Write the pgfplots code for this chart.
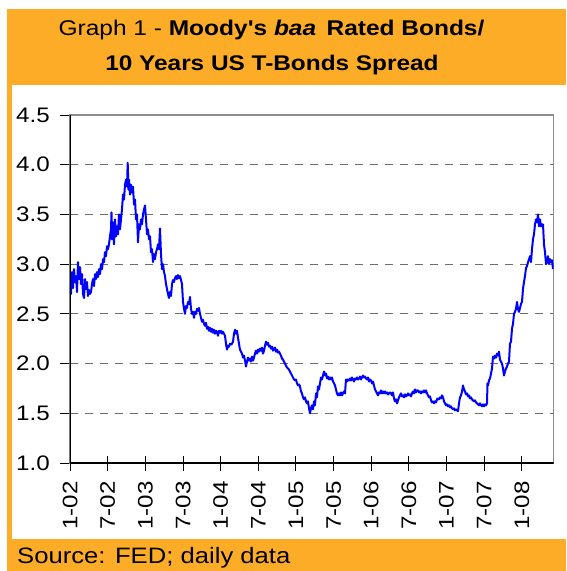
\documentclass[border=0pt]{standalone}
\usepackage{fontspec}
\setmainfont{Liberation Sans}[FakeStretch=1.15, Ligatures=TeXOff]
\usepackage{pgfplots}
\pgfplotsset{compat=1.18}
\definecolor{frameorange}{RGB}{253,172,40}
\definecolor{gridgray}{RGB}{110,110,110}
\definecolor{bordergray}{RGB}{140,140,140}
\begin{document}
\begin{tikzpicture}[x=1pt,y=1pt]
\useasboundingbox (-70,-108) rectangle (496,463);
\fill[white] (-70,-108) rectangle (496,463);
\fill[frameorange] (-63,-108) rectangle (496,454);
\fill[white] (-58,-76) rectangle (496,378);
\node[anchor=base, inner sep=0pt, font=\fontsize{21.3}{24}\selectfont] at (201.5,427) {Graph 1 - \textbf{Moody's \textit{baa}\, Rated Bonds/}};
\node[anchor=base, inner sep=0pt, font=\fontsize{21.2}{24}\selectfont\bfseries] at (202,392.5) {10 Years US T-Bonds Spread};
\node[anchor=base west, inner sep=0pt, font=\fontsize{22.3}{24}\selectfont] at (-53,-100) {Source: FED; daily data};
\begin{axis}[
  at={(0,0)}, anchor=south west,
  scale only axis, width=483.5pt, height=348pt,
  xmin=0, xmax=483.5, ymin=1, ymax=4.5,
  ytick={1,1.5,2,2.5,3,3.5,4,4.5},
  xtick={0,37.64,75.28,112.92,150.56,188.2,225.84,263.48,301.12,338.76,376.4,414.04,451.68},
  xticklabels={1-02,7-02,1-03,7-03,1-04,7-04,1-05,7-05,1-06,7-06,1-07,7-07,1-08},
  xtick pos=bottom, ytick pos=left,
  tick align=outside, major tick length=10pt,
  tick style={black, line width=0.8pt},
  xtick style={yshift=7pt, /pgfplots/major tick length=15pt},
  ymajorgrids,
  grid style={gridgray, dash pattern=on 8pt off 7pt, line width=0.8pt},
  axis line style={bordergray, line width=1.2pt},
  yticklabel style={font=\fontsize{21}{21}\selectfont, inner sep=0pt, xshift=-10pt},
  xticklabel style={font=\fontsize{21}{21}\selectfont, rotate=90, anchor=east, inner ysep=0pt, inner xsep=0pt, text depth=0pt},
  xticklabel shift=8pt,
  /pgf/number format/.cd, fixed, fixed zerofill, precision=1, assume math mode=true,
]
\addplot[blue, line width=2pt, line join=round] coordinates {
(0,2.78)(1,2.70)(2,2.92)(3,2.76)(4,2.95)(5,2.82)(6,2.88)(7,2.72)(8,3.02)(9,2.85)(10,2.97)(11,2.80)(12,2.90)(13,2.70)(14,2.66)(15,2.85)(16,2.75)(17,2.82)(18,2.68)(19,2.74)
(20,2.70)(21,2.72)(22,2.80)(23,2.85)(24,2.78)(25,2.90)(26,2.85)(27,2.92)(28,2.87)(29,2.95)(30,2.90)(31,3.00)(32,2.95)(33,3.05)(34,3.02)(35,3.12)(36,3.08)(37,3.18)(38,3.15)(39,3.20)
(40,3.28)(41,3.35)(41.5,3.52)(42,3.25)(43,3.42)(44,3.20)(45,3.45)(46,3.28)(47,3.38)(48,3.30)(49,3.50)(50,3.35)(51,3.45)(52,3.55)(53,3.70)(54,3.65)(55,3.80)(56,3.85)(57,3.78)(57.7,4.02)
(58.5,3.75)(59,3.85)(60,3.70)(61,3.80)(62,3.72)(63,3.78)(64,3.60)(65,3.65)(66,3.45)(67,3.50)(68,3.22)(69,3.40)(70,3.35)(71,3.45)(72,3.40)(73,3.50)(74,3.55)(75,3.59)(76,3.45)(77,3.30)
(78,3.35)(79,3.25)(80,3.28)(81,3.12)(82,3.15)(83,3.02)(84,3.10)(85,3.05)(86,3.12)(87,3.15)(88,3.20)(89,3.15)(90,3.36)(91,3.10)(92,2.95)(93,3.00)(94,2.92)(95,2.88)(96,2.80)(97,2.75)
(98,2.70)(99,2.66)(100,2.72)(101,2.68)(102,2.80)(103,2.84)(104,2.82)(105,2.86)(106,2.88)(107,2.85)(108,2.89)(109,2.86)(110,2.88)(111,2.84)(112,2.80)(113,2.62)(114,2.55)(115,2.50)(116,2.58)(117,2.56)
(118,2.62)(119,2.60)(120,2.67)(121,2.55)(122,2.50)(123,2.52)(124,2.46)(125,2.52)(126,2.50)(127,2.55)(128,2.53)(129,2.56)(130,2.50)(131,2.46)(132,2.42)(133,2.44)(134,2.40)(135,2.38)(136,2.41)(137,2.35)
(138,2.37)(139,2.33)(140,2.36)(141,2.32)(142,2.35)(143,2.31)(144,2.34)(145,2.30)(146,2.33)(147,2.32)(148,2.28)(149,2.33)(150,2.31)(151,2.33)(152,2.30)(153,2.32)(154,2.30)(155,2.28)(156,2.20)(157,2.14)
(158,2.18)(159,2.17)(160,2.20)(161,2.19)(162,2.20)(163,2.22)(164,2.30)(165,2.34)(166,2.30)(167,2.33)(168,2.26)(169,2.20)(170,2.14)(171,2.12)(172,2.10)(173,2.06)(174,2.08)(175,2.03)(176,1.97)(177,2.02)
(178,2.06)(179,2.03)(180,2.05)(181,2.02)(182,2.07)(183,2.03)(184,2.06)(185,2.10)(186,2.13)(187,2.10)(188,2.14)(189,2.12)(190,2.15)(191,2.13)(192,2.16)(193,2.10)(194,2.13)(195,2.18)(196,2.22)(197,2.19)
(198,2.21)(199,2.17)(200,2.18)(201,2.15)(202,2.17)(203,2.13)(204,2.15)(205,2.16)(206,2.12)(207,2.14)(208,2.11)(209,2.12)(210,2.10)(211,2.08)(212,2.05)(213,2.04)(214,2.02)(215,2.00)(216,1.98)(217,1.96)
(218,1.95)(219,1.94)(220,1.92)(221,1.90)(222,1.88)(223,1.86)(224,1.84)(225,1.83)(226,1.84)(227,1.80)(228,1.78)(229,1.79)(230,1.77)(231,1.72)(232,1.70)(233,1.66)(234,1.64)(235,1.66)(236,1.62)(237,1.60)
(238,1.62)(239,1.55)(240,1.50)(241,1.55)(242,1.58)(243,1.54)(244,1.62)(245,1.58)(246,1.70)(247,1.66)(248,1.77)(249,1.74)(250,1.80)(251,1.86)(252,1.84)(253,1.88)(254,1.92)(255,1.88)(256,1.90)(257,1.85)
(258,1.87)(259,1.84)(260,1.86)(261,1.84)(262,1.86)(263,1.82)(264,1.80)(265,1.78)(266,1.74)(267,1.70)(268,1.68)(269,1.70)(270,1.68)(271,1.71)(272,1.68)(273,1.70)(274,1.72)(275,1.70)(276,1.84)(277,1.82)
(278,1.84)(279,1.83)(280,1.85)(281,1.83)(282,1.86)(283,1.84)(284,1.82)(285,1.85)(286,1.84)(287,1.86)(288,1.84)(289,1.85)(290,1.87)(291,1.84)(292,1.86)(293,1.88)(294,1.86)(295,1.87)(296,1.85)(297,1.84)
(298,1.86)(299,1.82)(300,1.84)(301,1.83)(302,1.80)(303,1.82)(304,1.78)(305,1.74)(306,1.72)(307,1.70)(308,1.68)(309,1.71)(310,1.70)(311,1.73)(312,1.70)(313,1.72)(314,1.70)(315,1.72)(316,1.70)(317,1.71)
(318,1.69)(319,1.70)(320,1.71)(321,1.70)(322,1.68)(323,1.71)(324,1.65)(325,1.62)(326,1.64)(327,1.60)(328,1.63)(329,1.66)(330,1.68)(331,1.70)(332,1.67)(333,1.68)(334,1.66)(335,1.69)(336,1.67)(337,1.68)
(338,1.70)(339,1.68)(340,1.69)(341,1.67)(342,1.70)(343,1.72)(344,1.70)(345,1.74)(346,1.71)(347,1.73)(348,1.73)(349,1.71)(350,1.72)(351,1.70)(352,1.72)(353,1.71)(354,1.73)(355,1.71)(356,1.73)(357,1.70)
(358,1.68)(359,1.66)(360,1.67)(361,1.63)(362,1.61)(363,1.62)(364,1.60)(365,1.62)(366,1.61)(367,1.64)(368,1.65)(369,1.64)(370,1.66)(371,1.65)(372,1.68)(373,1.66)(374,1.62)(375,1.60)(376,1.58)(377,1.59)
(378,1.57)(379,1.58)(380,1.56)(381,1.57)(382,1.55)(383,1.54)(384,1.55)(385,1.53)(386,1.54)(387,1.53)(388,1.52)(389,1.60)(390,1.66)(391,1.68)(392,1.72)(393,1.78)(394,1.74)(395,1.72)(396,1.69)(397,1.70)
(398,1.67)(399,1.68)(400,1.65)(401,1.66)(402,1.64)(403,1.63)(404,1.62)(405,1.63)(406,1.61)(407,1.60)(408,1.59)(409,1.58)(410,1.60)(411,1.58)(412,1.57)(413,1.59)(414,1.57)(415,1.59)(416,1.58)(417,1.60)
(417.5,1.80)(418,1.78)(419,1.83)(420,1.85)(421,1.90)(422,1.95)(423,2.07)(424,2.05)(425,2.08)(426,2.06)(427,2.10)(428,2.08)(429,2.12)(430,2.04)(431,2.02)(432,2.00)(433,1.95)(434,1.88)(435,1.92)(436,1.95)
(437,1.97)(438,2.00)(439,2.02)(440,2.20)(441,2.22)(442,2.35)(443,2.40)(444,2.50)(445,2.52)(446,2.55)(447,2.62)(448,2.55)(449,2.52)(450,2.56)(451,2.60)(452,2.62)(453,2.75)(454,2.82)(455,2.88)(456,2.96)
(457,2.98)(458,3.02)(459,3.05)(460,3.08)(461,3.02)(462,3.15)(463,3.25)(464,3.30)(465,3.40)(466,3.45)(467,3.42)(468,3.50)(469,3.38)(470,3.45)(471,3.38)(472,3.40)(473,3.40)(474,3.20)(475,3.12)(476,3.00)
(477,3.02)(478,3.08)(479,3.00)(480,3.05)(481,3.02)(482,3.04)(483,2.95)
};
\draw[black, line width=1.2pt] (rel axis cs:0,1) -- (rel axis cs:0,0) -- (rel axis cs:1,0);
\end{axis}
\end{tikzpicture}
\end{document}
